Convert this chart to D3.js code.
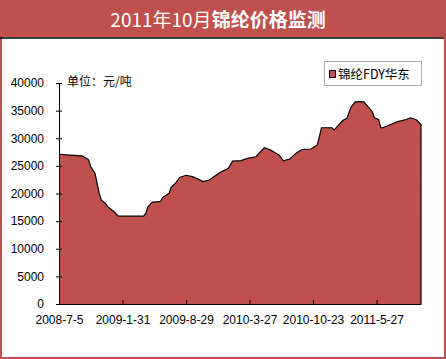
<!DOCTYPE html>
<html>
<head>
<meta charset="utf-8">
<script src="https://cdn.jsdelivr.net/npm/d3@7"></script>
<style>
  body { margin: 0; background: #fff; }
  text { font-family: "Liberation Sans", "Noto Sans CJK SC", sans-serif; }
</style>
</head>
<body>
<svg width="446" height="359"></svg>
<script>
// week index (weekly data starting 2008-7-5) and price
const weeks = [0, 5, 11, 14, 15, 17, 18, 19, 20, 22, 23, 26, 28, 40, 41, 42, 44, 48, 49, 52, 53, 55, 57, 60,
    63, 66, 68, 71, 76, 80, 82, 86, 89, 93, 97, 100, 104, 106, 109, 112, 115, 119, 122, 123, 124,
    129, 130, 134, 136, 138, 140, 144, 148, 149, 151, 152, 153, 156, 160, 164, 166, 169, 171];
const prices = [27100, 26950, 26800, 26100, 24850, 23650, 21850, 20050, 18800, 18200, 17600, 16700, 15900,
    15900, 16400, 17600, 18400, 18600, 19300, 20050, 21100, 21850, 22900, 23300,
    23050, 22550, 22150, 22450, 23800, 24550, 25850, 25950, 26350, 26650, 28300, 27850, 26950, 25900,
    26250, 27300, 28000, 28050, 28800, 30300, 31900,
    31900, 31500, 33200, 33600, 35700, 36600, 36600, 34800, 33700, 33400, 31900, 31900, 32400, 33000,
    33400, 33700, 33300, 32500];
const tickWeeks = [0, 30, 60, 90, 120, 150];
const tickLabels = ["2008-7-5", "2009-1-31", "2009-8-29", "2010-3-27", "2010-10-23", "2011-5-27"];
const yTicks = [0, 5000, 10000, 15000, 20000, 25000, 30000, 35000, 40000];

const red = "#C0504D";
const data = weeks.map((w, i) => ({ w, v: prices[i] }));

const svg = d3.select("svg");

// frame + title band
svg.append("rect").attr("x", 1).attr("y", 1).attr("width", 444).attr("height", 357)
    .attr("fill", "#fff").attr("stroke", red).attr("stroke-width", 2);
svg.append("rect").attr("x", 0).attr("y", 0).attr("width", 446).attr("height", 37).attr("fill", red);
svg.append("line").attr("x1", 0).attr("x2", 444).attr("y1", 38).attr("y2", 38)
    .attr("stroke", "#000").attr("stroke-width", 1.5);

const title = svg.append("text").attr("x", 218).attr("y", 27)
    .attr("text-anchor", "middle").attr("fill", "#fff")
    .style("font-family", "'Noto Sans CJK SC', sans-serif").style("font-size", "19px");
title.append("tspan").text("2011年10月");
title.append("tspan").attr("font-weight", "bold").text("锦纶价格监测");

const x = d3.scaleLinear().domain([0, 171]).range([59, 421]);
const y = d3.scaleLinear().domain([0, 40000]).range([304, 83]);

// area
svg.append("path").datum(data)
    .attr("fill", red)
    .attr("d", d3.area().x(d => x(d.w)).y0(y(0)).y1(d => y(d.v)));

const outline = data.concat([{ w: 171, v: 0 }]);
svg.append("path").datum(outline)
    .attr("fill", "none").attr("stroke", "#000").attr("stroke-width", 1.2)
    .attr("d", d3.line().x(d => x(d.w)).y(d => y(d.v)));

// y axis
const yAxis = svg.append("g").attr("transform", "translate(59,0)")
    .call(d3.axisLeft(y).tickValues(yTicks).tickSizeOuter(0).tickPadding(9).tickFormat(d3.format("d")));
yAxis.selectAll(".tick line").attr("x1", 3).attr("x2", -3);
yAxis.selectAll("text").style("font-size", "12px").attr("fill", "#000");
yAxis.select(".domain").attr("stroke", "#000");

// x axis
const xAxis = svg.append("g").attr("transform", `translate(0,${y(0)})`)
    .call(d3.axisBottom(x).tickValues(tickWeeks).tickSizeOuter(0)
        .tickFormat((d, i) => tickLabels[i]));
xAxis.selectAll(".tick line").attr("y1", 0).attr("y2", -4);
xAxis.selectAll("text").attr("y", 11).style("font-size", "12px").attr("fill", "#000");
xAxis.select(".domain").attr("stroke", "#000").attr("stroke-width", 1.2);

// unit label
svg.append("text").attr("x", 67).attr("y", 86)
    .style("font-family", "'Noto Sans CJK SC', sans-serif").style("font-size", "12px")
    .text("单位：元/吨");

// legend
const lg = svg.append("g");
lg.append("rect").attr("x", 324.5).attr("y", 61.5).attr("width", 97).attr("height", 24)
    .attr("fill", "#fff").attr("stroke", "#b0b0b0");
lg.append("rect").attr("x", 329.5).attr("y", 70.5).attr("width", 6).attr("height", 7)
    .attr("fill", red).attr("stroke", "#000");
lg.append("text").attr("x", 338).attr("y", 79)
    .style("font-family", "'Noto Sans CJK SC', sans-serif").style("font-size", "12.5px")
    .text("锦纶FDY华东");
</script>
</body>
</html>
